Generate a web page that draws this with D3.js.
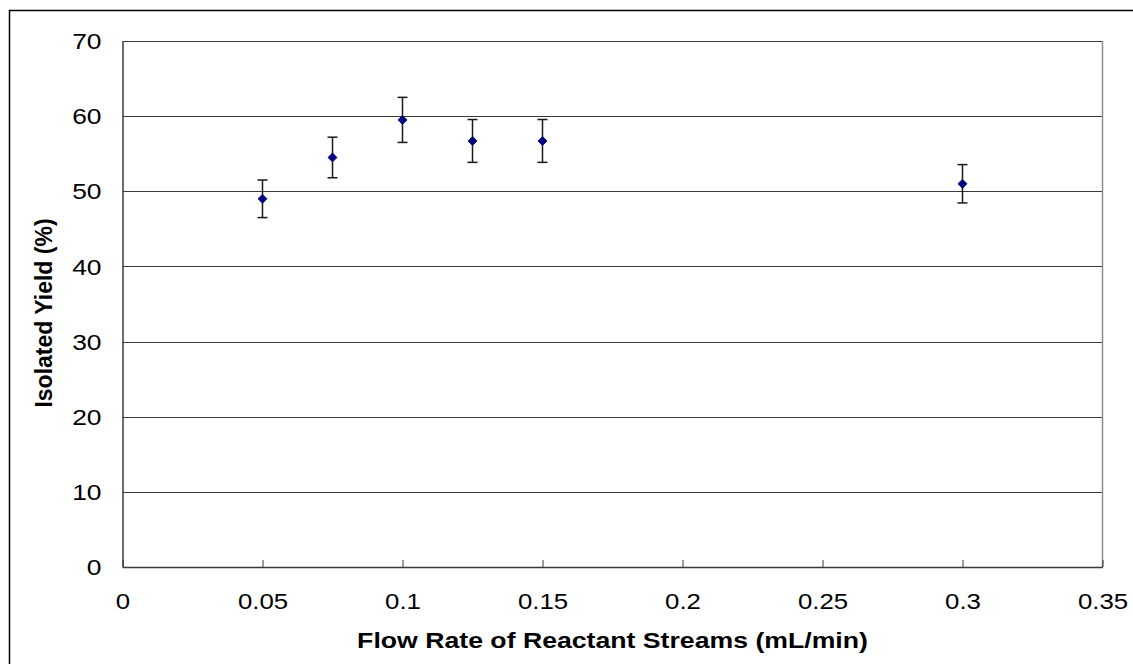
<!DOCTYPE html>
<html>
<head>
<meta charset="utf-8">
<script src="https://cdn.jsdelivr.net/npm/d3@7"></script>
<style>
  html, body { margin: 0; padding: 0; background: #fff; }
  svg { display: block; }
  text { font-family: "Liberation Sans", Arial, sans-serif; fill: #000; }
</style>
</head>
<body>
<svg id="chart" width="1133" height="664"></svg>
<script>
// ---- data ----
const flowRates = [0.05, 0.075, 0.1, 0.125, 0.15, 0.3];
const yields = [49.0, 54.5, 59.5, 56.7, 56.7, 51.0];
const errors = [2.5, 2.7, 3.0, 2.85, 2.85, 2.55];
const xTicks = [0, 0.05, 0.1, 0.15, 0.2, 0.25, 0.3, 0.35];
const xTickLabels = ["0", "0.05", "0.1", "0.15", "0.2", "0.25", "0.3", "0.35"];
const yTicks = [0, 10, 20, 30, 40, 50, 60, 70];
const xTitle = "Flow Rate of Reactant Streams (mL/min)";
const yTitle = "Isolated Yield (%)";

// ---- layout ----
const W = 1133, H = 664;
const plot = { left: 122.5, right: 1102.5, top: 41, bottom: 567 };
const stretch = 1.2;

const svg = d3.select("#chart");

// outer border
svg.append("rect")
  .attr("x", 9.5).attr("y", 10.5)
  .attr("width", W + 10).attr("height", H + 10)
  .attr("fill", "none").attr("stroke", "#000").attr("stroke-width", 1.5);

const x = d3.scaleLinear().domain([0, 0.35]).range([plot.left, plot.right]);
const y = d3.scaleLinear().domain([0, 70]).range([plot.bottom, plot.top]);

// gridlines
svg.append("g")
  .selectAll("line")
  .data(yTicks.filter(d => d > 0))
  .join("line")
  .attr("x1", plot.left).attr("x2", plot.right)
  .attr("y1", d => Math.round(y(d)) + 0.5).attr("y2", d => Math.round(y(d)) + 0.5)
  .attr("stroke", "#3a3a3a").attr("stroke-width", 1.2);

// right border of plot area
svg.append("line")
  .attr("x1", plot.right).attr("x2", plot.right)
  .attr("y1", plot.top).attr("y2", plot.bottom)
  .attr("stroke", "#8c8c8c").attr("stroke-width", 1.5);

// y axis
const yAxis = d3.axisLeft(y).tickValues(yTicks).tickSize(0).tickPadding(0);
const gy = svg.append("g").attr("transform", `translate(${plot.left},0)`).call(yAxis);
gy.select(".domain").attr("stroke", "#3a3a3a").attr("stroke-width", 1.5);
gy.selectAll("text")
  .style("font-size", "22px").attr("fill", "#000")
  .attr("x", -21 / stretch).attr("dy", "0.35em")
  .attr("transform", `scale(${stretch},1)`);

// x axis (ticks pointing inward)
const xAxis = d3.axisBottom(x).tickValues(xTicks)
  .tickFormat((d, i) => xTickLabels[i]).tickSizeInner(-7).tickSizeOuter(0).tickPadding(0);
const gx = svg.append("g").attr("transform", `translate(0,${plot.bottom})`).call(xAxis);
gx.select(".domain").attr("stroke", "#3a3a3a").attr("stroke-width", 1.5);
gx.selectAll(".tick line").attr("stroke", "#3a3a3a").attr("stroke-width", 1);
gx.selectAll("text")
  .style("font-size", "21.5px").attr("fill", "#000")
  .attr("y", 42).attr("dy", 0)
  .attr("transform", `scale(${stretch},1)`);

// error bars
const eb = svg.append("g").attr("stroke", "#1a1a1a").attr("stroke-width", 1.5);
flowRates.forEach((fr, i) => {
  const cx = x(fr);
  const yTop = y(yields[i] + errors[i]);
  const yBot = y(yields[i] - errors[i]);
  eb.append("line").attr("x1", cx).attr("x2", cx).attr("y1", yTop).attr("y2", yBot);
  eb.append("line").attr("x1", cx - 5).attr("x2", cx + 5).attr("y1", yTop).attr("y2", yTop);
  eb.append("line").attr("x1", cx - 5).attr("x2", cx + 5).attr("y1", yBot).attr("y2", yBot);
});

// markers (diamonds)
svg.append("g")
  .selectAll("path")
  .data(flowRates.map((fr, i) => ({ fr, v: yields[i] })))
  .join("path")
  .attr("d", d3.symbol().type(d3.symbolSquare).size(40))
  .attr("transform", d => `translate(${x(d.fr)},${y(d.v)}) rotate(45)`)
  .attr("fill", "#00007f").attr("stroke", "#00007f").attr("stroke-width", 0.8);

// axis titles
svg.append("text")
  .attr("transform", `translate(${(plot.left + plot.right) / 2},648) scale(1.24,1)`)
  .attr("text-anchor", "middle")
  .style("font-size", "21.5px").style("font-weight", "bold")
  .text(xTitle);

svg.append("text")
  .attr("transform", `translate(52,313) rotate(-90)`)
  .attr("text-anchor", "middle")
  .style("font-size", "23px").style("font-weight", "bold")
  .text(yTitle);
</script>
</body>
</html>
